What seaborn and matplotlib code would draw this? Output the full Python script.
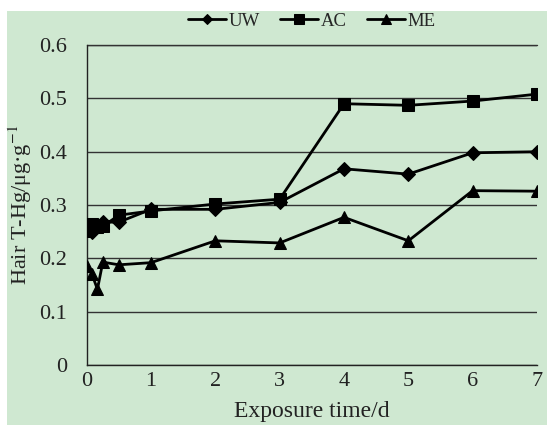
import numpy as np
import pandas as pd
import matplotlib
matplotlib.use("Agg")
import matplotlib.pyplot as plt
import seaborn as sns
from matplotlib.patches import Rectangle
from matplotlib.ticker import FuncFormatter

# exposure time in days (0, 2h, 4h, 6h, 12h, 1d ... 7d)
days = [0, 0.083, 0.167, 0.25, 0.5, 1, 2, 3, 4, 5, 6, 7]
uw = [0.255, 0.250, 0.260, 0.268, 0.268, 0.292, 0.292, 0.305, 0.368, 0.358, 0.398, 0.400]
ac = [0.252, 0.265, 0.258, 0.260, 0.281, 0.289, 0.302, 0.311, 0.490, 0.487, 0.495, 0.508]
me = [0.186, 0.170, 0.142, 0.193, 0.188, 0.192, 0.233, 0.229, 0.277, 0.233, 0.327, 0.326]
groups = ["UW", "AC", "ME"]

df = pd.DataFrame({
    "day": days * 3,
    "hg": uw + ac + me,
    "group": np.repeat(groups, len(days)),
})

sns.set_style("white")
plt.rcParams["font.family"] = ["Liberation Serif", "DejaVu Serif"]
plt.rcParams["mathtext.fontset"] = "stix"

bg = "#cfe8d1"
fig = plt.figure(figsize=(5.47, 4.25), dpi=100, facecolor="white")
fig.patches.append(Rectangle((7 / 547, 0), 1, 1 - 11 / 425, transform=fig.transFigure,
                             facecolor=bg, edgecolor="none", zorder=-10))
ax = fig.add_axes([0.1585, 0.141, 0.9817 - 0.1585, 0.894 - 0.141])
ax.set_facecolor(bg)
ax.patch.set_alpha(0)

sns.lineplot(data=df, x="day", y="hg", hue="group", style="group",
             palette={g: "black" for g in groups},
             markers={"UW": "D", "AC": "s", "ME": "^"},
             dashes=False, markersize=9, linewidth=2.0, sort=False,
             markeredgecolor="black", ax=ax, zorder=3)
# shrink the diamonds a bit
for line in ax.lines:
    if line.get_marker() == "D":
        line.set_markersize(7)

ax.set_xlim(0, 7)
ax.set_ylim(0, 0.6)
ax.set_xticks(range(8))
ax.set_yticks(np.arange(0, 0.61, 0.1))
fmt = FuncFormatter(lambda v, p: "0" if abs(v) < 1e-9 else f"{v:.1f}")
ax.yaxis.set_major_formatter(fmt)
ax.yaxis.grid(True, color="#333333", linewidth=1.0)
ax.axhline(0.6, color="#333333", linewidth=1.0, clip_on=False, zorder=1)
ax.tick_params(axis="both", length=0, labelsize=16, colors="#222222")
ax.tick_params(axis="x", pad=5)
ax.tick_params(axis="y", pad=14)
for s in ["top", "right"]:
    ax.spines[s].set_visible(False)
for s in ["left", "bottom"]:
    ax.spines[s].set_color("#222222")
    ax.spines[s].set_linewidth(1.0)

ax.set_xlabel("Exposure time/d", fontsize=17, color="#222222", labelpad=7)
ax.set_ylabel(r"Hair T-Hg/μg·g$^{-1}$", fontsize=16, color="#222222", labelpad=4)

handles, labels = ax.get_legend_handles_labels()
ax.legend(handles, labels, loc="center", bbox_to_anchor=(0.5, 1.075), ncol=3,
          frameon=False, fontsize=13.5, handlelength=2.0, handletextpad=0.15,
          columnspacing=1.1, markerscale=0.8)

fig.savefig("out.png", dpi=100, facecolor=fig.get_facecolor())
